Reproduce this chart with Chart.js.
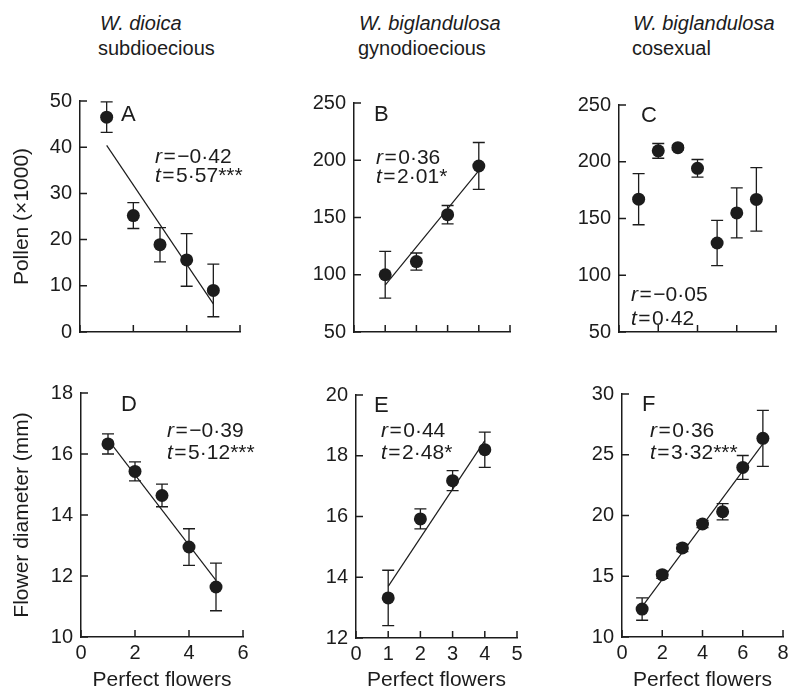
<!DOCTYPE html>
<html>
<head>
<meta charset="utf-8">
<script src="https://cdn.jsdelivr.net/npm/chart.js@4.4.1/dist/chart.umd.min.js"></script>
<style>
  html, body { margin: 0; padding: 0; background: #fff; overflow: hidden; }
  body { width: 789px; height: 691px; position: relative; font-family: "Liberation Sans", Arial, sans-serif; color: #1c1c1c; }
  canvas { position: absolute; }
  .txt { position: absolute; white-space: nowrap; }
  .eq { margin: 0 1.5px; }
</style>
</head>
<body>
<script>
const fontFamily = '"Liberation Sans", Arial, sans-serif';
const ink = '#1c1c1c';

// A - W. dioica, pollen
const flowersA = [1, 2, 3, 4, 5];
const pollenA = [46.5, 25.2, 18.9, 15.6, 9.0];
const pollenErrA = [3.3, 2.8, 3.7, 5.7, 5.7];
const fitXA = [1, 5];
const fitYA = [40.4, 6.1];
const xTicksA = [0, 2, 4, 6];
const yTicksA = [0, 10, 20, 30, 40, 50];

// B - W. biglandulosa gynodioecious, pollen
const flowersB = [1, 2, 3, 4];
const pollenB = [100, 111.5, 152.5, 195];
const pollenErrB = [20.5, 7.5, 8, 20.5];
const fitXB = [1, 4];
const fitYB = [91, 191];
const xTicksB = [0, 1, 2, 3, 4, 5];
const yTicksB = [50, 100, 150, 200, 250];

// C - W. biglandulosa cosexual, pollen (no fit line)
const flowersC = [1, 2, 3, 4, 5, 6, 7];
const pollenC = [167, 209.6, 212.4, 194.2, 128.4, 154.9, 166.8];
const pollenErrC = [22.5, 6.5, 2, 7.8, 20, 22, 28];
const xTicksC = [0, 2, 4, 6, 8];
const yTicksC = [50, 100, 150, 200, 250];

// D - W. dioica, flower diameter
const flowersD = [1, 2, 3, 4, 5];
const diamD = [16.33, 15.43, 14.64, 12.95, 11.64];
const diamErrD = [0.33, 0.31, 0.37, 0.6, 0.78];
const fitXD = [1, 5];
const fitYD = [16.47, 11.86];
const xTicksD = [0, 2, 4, 6];
const yTicksD = [10, 12, 14, 16, 18];

// E - W. biglandulosa gynodioecious, flower diameter
const flowersE = [1, 2, 3, 4];
const diamE = [13.32, 15.92, 17.18, 18.2];
const diamErrE = [0.91, 0.33, 0.33, 0.58];
const fitXE = [1, 4];
const fitYE = [13.7, 18.5];
const xTicksE = [0, 1, 2, 3, 4, 5];
const yTicksE = [12, 14, 16, 18, 20];

// F - W. biglandulosa cosexual, flower diameter
const flowersF = [1, 2, 3, 4, 5, 6, 7];
const diamF = [12.3, 15.13, 17.33, 19.3, 20.31, 23.96, 26.35];
const diamErrF = [0.92, 0.3, 0.3, 0.3, 0.67, 0.98, 2.3];
const fitXF = [1, 7];
const fitYF = [12.5, 25.9];
const xTicksF = [0, 2, 4, 6, 8];
const yTicksF = [10, 15, 20, 25, 30];

const pollenTitle = 'Pollen (\u00d71000)';
const diamTitle = 'Flower diameter (mm)';
const xTitle = 'Perfect flowers';

// vertical bars with caps, drawn under the dots
const errorBars = {
  id: 'errorBars',
  beforeDatasetsDraw(chart) {
    const ds = chart.data.datasets[0];
    const { ctx, scales: { x, y } } = chart;
    ctx.save();
    ctx.strokeStyle = ink;
    ctx.lineWidth = 1.3;
    ds.data.forEach((pt, i) => {
      const e = ds.errors[i];
      if (!e) return;
      const px = x.getPixelForValue(pt.x);
      const hi = y.getPixelForValue(pt.y + e);
      const lo = y.getPixelForValue(pt.y - e);
      ctx.beginPath();
      ctx.moveTo(px, hi); ctx.lineTo(px, lo);
      ctx.moveTo(px - 6, hi); ctx.lineTo(px + 6, hi);
      ctx.moveTo(px - 6, lo); ctx.lineTo(px + 6, lo);
      ctx.stroke();
    });
    ctx.restore();
  }
};

// tick marks point into the plot on both axes
const inwardTicks = {
  id: 'inwardTicks',
  afterDatasetsDraw(chart) {
    const { ctx, scales: { x, y }, chartArea: a } = chart;
    ctx.save();
    ctx.strokeStyle = ink;
    ctx.lineWidth = 1.5;
    ctx.beginPath();
    x.ticks.forEach(t => {
      const px = x.getPixelForValue(t.value);
      ctx.moveTo(px, a.bottom); ctx.lineTo(px, a.bottom - 7);
    });
    y.ticks.forEach(t => {
      const py = y.getPixelForValue(t.value);
      ctx.moveTo(a.left, py); ctx.lineTo(a.left + 7, py);
    });
    ctx.stroke();
    ctx.restore();
  }
};

function makePanel(p) {
  const padTop = 24, padRight = 16;
  const yW = p.yTitle ? p.box.l : 60;
  const xH = p.showX ? 691 - p.box.b : 12;
  const w = yW + (p.box.r - p.box.l) + padRight;
  const h = padTop + (p.box.b - p.box.t) + xH;
  const c = document.createElement('canvas');
  c.width = w; c.height = h;
  c.style.left = (p.box.l - yW) + 'px';
  c.style.top = (p.box.t - padTop) + 'px';
  c.style.width = w + 'px'; c.style.height = h + 'px';
  document.body.appendChild(c);

  const datasets = [{
    data: p.x.map((v, i) => ({ x: v, y: p.y[i] })),
    errors: p.err,
    pointRadius: 6.5,
    pointBackgroundColor: ink,
    pointBorderWidth: 0,
    clip: false
  }];
  if (p.fitX) {
    datasets.push({
      data: p.fitX.map((v, i) => ({ x: v, y: p.fitY[i] })),
      showLine: true,
      borderColor: ink,
      borderWidth: 1.2,
      pointRadius: 0,
      clip: false
    });
  }

  new Chart(c, {
    type: 'scatter',
    data: { datasets },
    options: {
      responsive: false,
      animation: false,
      layout: { padding: { top: padTop, right: padRight, left: 0, bottom: 0 }, autoPadding: false },
      plugins: { legend: { display: false }, tooltip: { enabled: false } },
      scales: {
        x: {
          type: 'linear',
          min: p.xTicks[0],
          max: p.xTicks[p.xTicks.length - 1],
          afterBuildTicks: s => { s.ticks = p.xTicks.map(v => ({ value: v })); },
          ticks: { display: p.showX, color: ink, padding: 4, font: { family: fontFamily, size: 20 } },
          grid: { display: false, drawTicks: false },
          border: { display: true, color: ink, width: 1.5 },
          title: {
            display: p.showX, text: xTitle, color: ink,
            font: { family: fontFamily, size: 21, lineHeight: 1 }, padding: 0
          },
          afterFit: s => { s.height = xH; }
        },
        y: {
          type: 'linear',
          min: p.yTicks[0],
          max: p.yTicks[p.yTicks.length - 1],
          afterBuildTicks: s => { s.ticks = p.yTicks.map(v => ({ value: v })); },
          ticks: { color: ink, padding: 8, font: { family: fontFamily, size: 20 } },
          grid: { display: false, drawTicks: false },
          border: { display: true, color: ink, width: 1.5 },
          title: {
            display: !!p.yTitle, text: p.yTitle || '', color: ink,
            font: { family: fontFamily, size: 21, lineHeight: 1 }, padding: { top: 12, bottom: 0 }
          },
          afterFit: s => { s.width = yW; }
        }
      }
    },
    plugins: [errorBars, inwardTicks]
  });
}

makePanel({ x: flowersA, y: pollenA, err: pollenErrA, fitX: fitXA, fitY: fitYA, xTicks: xTicksA, yTicks: yTicksA,
  box: { l: 80, t: 101, r: 240, b: 340 }, yTitle: pollenTitle, showX: false });
makePanel({ x: flowersB, y: pollenB, err: pollenErrB, fitX: fitXB, fitY: fitYB, xTicks: xTicksB, yTicks: yTicksB,
  box: { l: 354, t: 103, r: 510, b: 340 }, showX: false });
makePanel({ x: flowersC, y: pollenC, err: pollenErrC, xTicks: xTicksC, yTicks: yTicksC,
  box: { l: 619, t: 105, r: 776, b: 340 }, showX: false });
makePanel({ x: flowersD, y: diamD, err: diamErrD, fitX: fitXD, fitY: fitYD, xTicks: xTicksD, yTicks: yTicksD,
  box: { l: 81, t: 393, r: 243, b: 637 }, yTitle: diamTitle, showX: true });
makePanel({ x: flowersE, y: diamE, err: diamErrE, fitX: fitXE, fitY: fitYE, xTicks: xTicksE, yTicks: yTicksE,
  box: { l: 356, t: 395, r: 517, b: 638 }, showX: true });
makePanel({ x: flowersF, y: diamF, err: diamErrF, fitX: fitXF, fitY: fitYF, xTicks: xTicksF, yTicks: yTicksF,
  box: { l: 622, t: 394, r: 783, b: 637 }, showX: true });

// text placed by its left edge and baseline
function place(html, left, baseline, size, italic) {
  const d = document.createElement('div');
  d.className = 'txt';
  d.innerHTML = html;
  d.style.fontSize = size + 'px';
  d.style.lineHeight = size + 'px';
  d.style.left = left + 'px';
  d.style.top = (baseline - 0.8465 * size) + 'px';
  if (italic) d.style.fontStyle = 'italic';
  document.body.appendChild(d);
}

place('W. dioica', 100, 30, 20, true);
place('subdioecious', 98, 55, 20);
place('W. biglandulosa', 359, 30, 20, true);
place('gynodioecious', 358, 55, 20);
place('W. biglandulosa', 633, 30, 20, true);
place('cosexual', 632, 55, 20);

place('A', 121, 122, 22);
place('B', 374, 122, 22);
place('C', 641, 123, 22);
place('D', 121, 411.5, 22);
place('E', 374, 413, 22);
place('F', 642, 411.5, 22);

const eq = '<span class="eq">=</span>';
place('<i>r</i>' + eq + '\u22120\u00b742', 155, 163, 21);
place('<i>t</i>' + eq + '5\u00b757***', 155, 181.5, 21);
place('<i>r</i>' + eq + '0\u00b736', 376, 163.5, 21);
place('<i>t</i>' + eq + '2\u00b701*', 376, 182.5, 21);
place('<i>r</i>' + eq + '\u22120\u00b705', 631, 301, 21);
place('<i>t</i>' + eq + '0\u00b742', 631, 325, 21);
place('<i>r</i>' + eq + '\u22120\u00b739', 167, 436.5, 21);
place('<i>t</i>' + eq + '5\u00b712***', 167, 458.5, 21);
place('<i>r</i>' + eq + '0\u00b744', 381, 436.5, 21);
place('<i>t</i>' + eq + '2\u00b748*', 381, 458.5, 21);
place('<i>r</i>' + eq + '0\u00b736', 650, 437, 21);
place('<i>t</i>' + eq + '3\u00b732***', 650, 459, 21);
</script>
</body>
</html>
